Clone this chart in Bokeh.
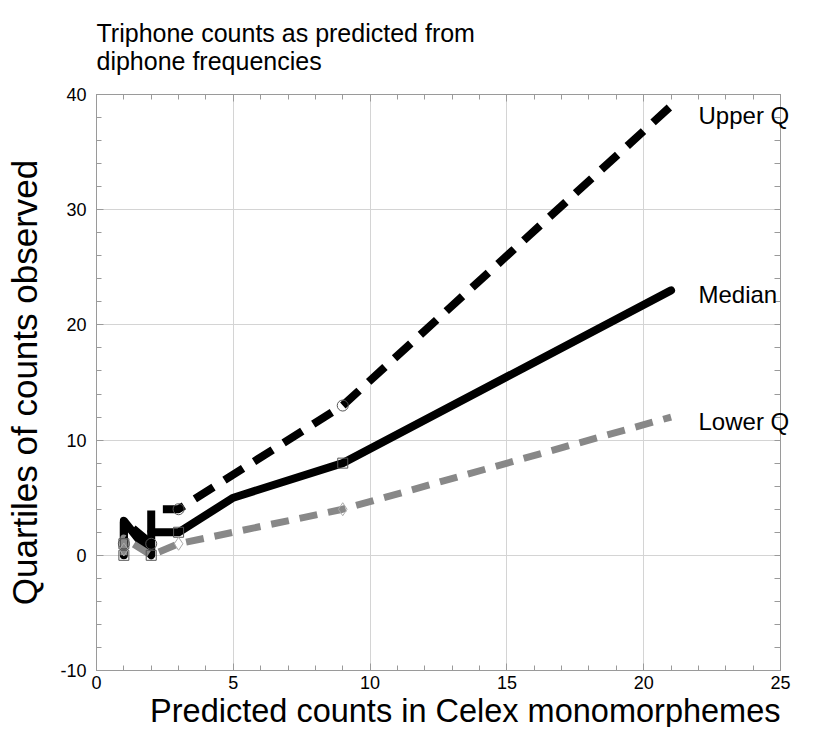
from bokeh.plotting import figure
from bokeh.models import (LinearAxis, SingleIntervalTicker, FixedTicker, Title, Range1d,
                          PrintfTickFormatter)
from bokeh.embed import file_html
from bokeh.resources import INLINE

# ---- data ----
upper_x = [1, 1, 2, 2, 3, 9, 21]
upper_y = [1, 3, 1, 4, 4, 13, 39]
median_x = [1, 1, 2, 2, 3, 5, 9, 21]
median_y = [0, 3, 0, 2, 2, 5, 8, 23]
lower_x = [1, 1, 2, 3, 9, 21]
lower_y = [0, 1.5, 0, 1, 4, 12]

upper_mark_x = [1, 2, 3, 9]
upper_mark_y = [1, 1, 4, 13]
median_mark_x = [1, 1, 2, 3, 9]
median_mark_y = [0, 1, 0, 2, 8]
lower_mark_x = [1, 3, 9]
lower_mark_y = [0.5, 1, 4]

series_names = ["Upper  Q", "Median", "Lower  Q"]
label_y = [38.2, 22.6, 11.6]

FONT = "Liberation Sans"

p = figure(width=800, height=727, output_backend="svg", toolbar_location=None,
           x_range=Range1d(0, 25), y_range=Range1d(-10, 40),
           min_border_left=96, min_border_right=20, min_border_top=87, min_border_bottom=0)
p.background_fill_color = "white"
p.border_fill_color = "white"
p.outline_line_color = "#9a9a9a"
p.outline_line_width = 1

xt = SingleIntervalTicker(interval=5, num_minor_ticks=5)
yt = SingleIntervalTicker(interval=10, num_minor_ticks=5)
p.xaxis.ticker = xt
p.yaxis.ticker = yt
p.xgrid.ticker = xt
p.ygrid.ticker = yt
p.xgrid.grid_line_color = "#d4d4d4"
p.ygrid.grid_line_color = "#d4d4d4"
p.xaxis.formatter = PrintfTickFormatter(format="%d")
p.yaxis.formatter = PrintfTickFormatter(format="%d")

def style_axis(ax, show_labels=True):
    ax.axis_line_color = "#9a9a9a"
    ax.major_tick_line_color = "#9a9a9a"
    ax.minor_tick_line_color = "#9a9a9a"
    ax.major_tick_in = 7
    ax.major_tick_out = 0
    ax.minor_tick_in = 5
    ax.minor_tick_out = 0
    if show_labels:
        ax.major_label_text_font = FONT
        ax.major_label_text_font_size = "18px"
        ax.major_label_text_color = "black"
    else:
        ax.major_label_text_font_size = "0px"
        ax.major_label_text_color = None
        ax.major_label_standoff = 0

for ax in p.xaxis + p.yaxis:
    style_axis(ax)
p.xaxis.major_label_standoff = 5
p.yaxis.major_label_standoff = 10

p.yaxis.axis_label = "Quartiles of counts observed"
p.yaxis.axis_label_text_font = FONT
p.yaxis.axis_label_text_font_style = "normal"
p.yaxis.axis_label_text_color = "black"
p.yaxis.axis_label_text_font_size = "35px"
p.yaxis.axis_label_standoff = 13

# right axis: frame-side ticks plus the series names as tick labels
rax = LinearAxis(ticker=FixedTicker(ticks=label_y, minor_ticks=list(range(-10, 41, 2))))
style_axis(rax)
rax.major_tick_in = 0
rax.minor_tick_in = 6
rax.major_label_overrides = {yy: nm for yy, nm in zip(label_y, series_names)}
rax.major_label_text_font_size = "24px"
rax.major_label_standoff = -82
p.add_layout(rax, "right")

tax = LinearAxis(ticker=SingleIntervalTicker(interval=5, num_minor_ticks=5))
style_axis(tax, show_labels=False)
p.add_layout(tax, "above")

p.add_layout(Title(text="Predicted counts in Celex monomorphemes", text_font=FONT,
                   text_font_size="32.5px", text_font_style="normal", text_color="black",
                   align="right", standoff=-2), "below")

p.add_layout(Title(text="Triphone counts as predicted from\ndiphone  frequencies",
                   text_font=FONT, text_font_size="25px", text_font_style="normal",
                   text_color="black", align="left", text_line_height=1.0,
                   vertical_align="top", standoff=36), "above")

# ---- lines ----
p.line(upper_x, upper_y, line_color="black", line_width=8, line_dash="22 13",
       line_join="round")
p.line(median_x, median_y, line_color="black", line_width=8, line_join="round",
       line_cap="round")
p.line(lower_x, lower_y, line_color="#888888", line_width=7, line_dash="18 11",
       line_join="round")

# ---- markers ----
p.scatter(upper_mark_x, upper_mark_y, marker="circle", size=11, fill_color=None,
          line_color="#555555", line_width=1)
p.scatter(median_mark_x, median_mark_y, marker="square", size=10, fill_color=None,
          line_color="#555555", line_width=1)
p.scatter(lower_mark_x, lower_mark_y, marker="diamond", size=13, fill_color=None,
          line_color="#aaaaaa", line_width=1)

open("out.html", "w").write(file_html(p, INLINE))
